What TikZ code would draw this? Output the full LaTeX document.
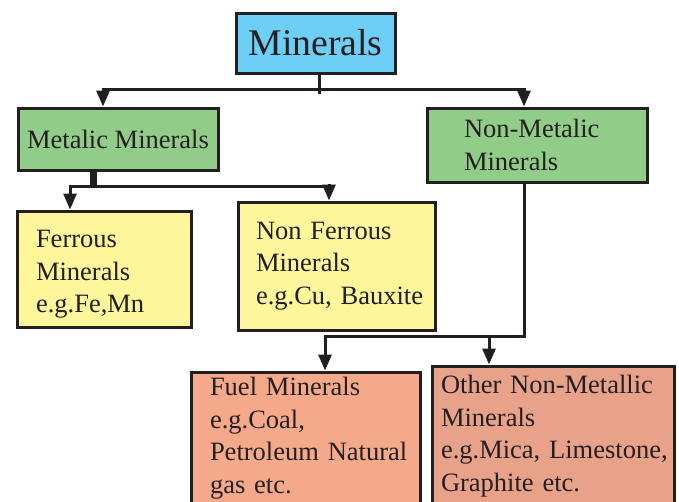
\documentclass[tikz,border=0pt]{standalone}
\usepackage{fontspec}
\setmainfont{Liberation Serif}
\usepackage{xcolor}
\usepackage{tikz}
\usetikzlibrary{arrows.meta,positioning,calc}
\definecolor{minblue}{RGB}{109,207,246}
\definecolor{mingreen}{RGB}{145,204,137}
\definecolor{minyellow}{RGB}{255,245,155}
\definecolor{minfuel}{RGB}{245,169,139}
\definecolor{minother}{RGB}{232,162,138}
\definecolor{edge}{RGB}{35,31,32}
\newcommand{\bodyfont}{\fontsize{26.5}{32.5}\selectfont}
\newcommand{\titlefont}{\fontsize{37.7}{42}\selectfont}

\begin{document}
\begin{tikzpicture}[x=1pt, y=-1pt,
        box/.style={rectangle, draw=edge, line width=3pt, align=left, inner sep=0pt, font=\bodyfont, text=edge},
        line/.style={draw=edge, line width=3pt, line cap=rect},
        arrow/.style={line, -{Triangle[length=16pt,width=13pt]}}
    ]
        \useasboundingbox (0,0) rectangle (679,501);
        \clip (0,0) rectangle (679,501);

        % Top
        \node[box, fill=minblue, align=center, font=\titlefont, minimum width=159, minimum height=60] (min) at (315.5,43) {Minerals};

        % Metalic / Non-Metalic
        \node[box, fill=mingreen, align=center, minimum width=200, minimum height=62] (met) at (118,139) {Metalic Minerals};
        \node[box, fill=mingreen, text width=146, minimum width=220, minimum height=74] (nmet) at (537,145) {Non-Metalic\\Minerals};

        % Ferrous / Non Ferrous
        \node[box, fill=minyellow, text width=136, minimum width=174, minimum height=116] (fer) at (104,269) {\rule{0pt}{28pt}Ferrous\\Minerals\\e.g.Fe,Mn};
        \node[box, fill=minyellow, text width=161, minimum width=197, minimum height=128] (nfer) at (336.5,266) {Non Ferrous\\Minerals\\\mbox{e.g.Cu, Bauxite}};

        % Fuel / Other
        \node[box, fill=minfuel, text width=191, minimum width=229, minimum height=132] (fuel) at (305.5,438) {Fuel Minerals\\e.g.Coal,\\\mbox{Petroleum Natural}\\gas etc.};
        \node[box, fill=minother, text width=224, minimum width=242, minimum height=140] (oth) at (553,436) {\mbox{Other Non-Metallic}\\Minerals\\\mbox{e.g.Mica, Limestone,}\\Graphite etc.};

        % Arrows from Minerals
        \coordinate (tl) at (103,89);
        \coordinate (tr) at (524,89);
        \draw[line] ([xshift=4pt]min.south) -- ([xshift=4pt]min.south |- 0,92);
        \draw[arrow] (tr) -- (tl) -- (tl |- met.north);
        \draw[arrow] (tr) -- (tr |- nmet.north);

        % Arrows from Metalic
        \coordinate (ms) at (93,187);
        \coordinate (fl) at (70,186);
        \coordinate (fr) at (329,186);
        \draw[edge, line width=7pt] (ms |- met.south) -- (ms);
        \draw[arrow] (fr) -- (fl) -- (fl |- fer.north);
        \draw[arrow] (fr) -- (fr |- nfer.north);

        % Arrows from Non-Metalic
        \coordinate (nb) at (524,336);
        \coordinate (nl) at (325,336);
        \coordinate (nm) at (489,336);
        \draw[arrow] (nmet.south -| nb) -- (nb) -- (nl) -- (nl |- fuel.north);
        \draw[arrow] (nm) -- (nm |- oth.north);
    \end{tikzpicture}
\end{document}
